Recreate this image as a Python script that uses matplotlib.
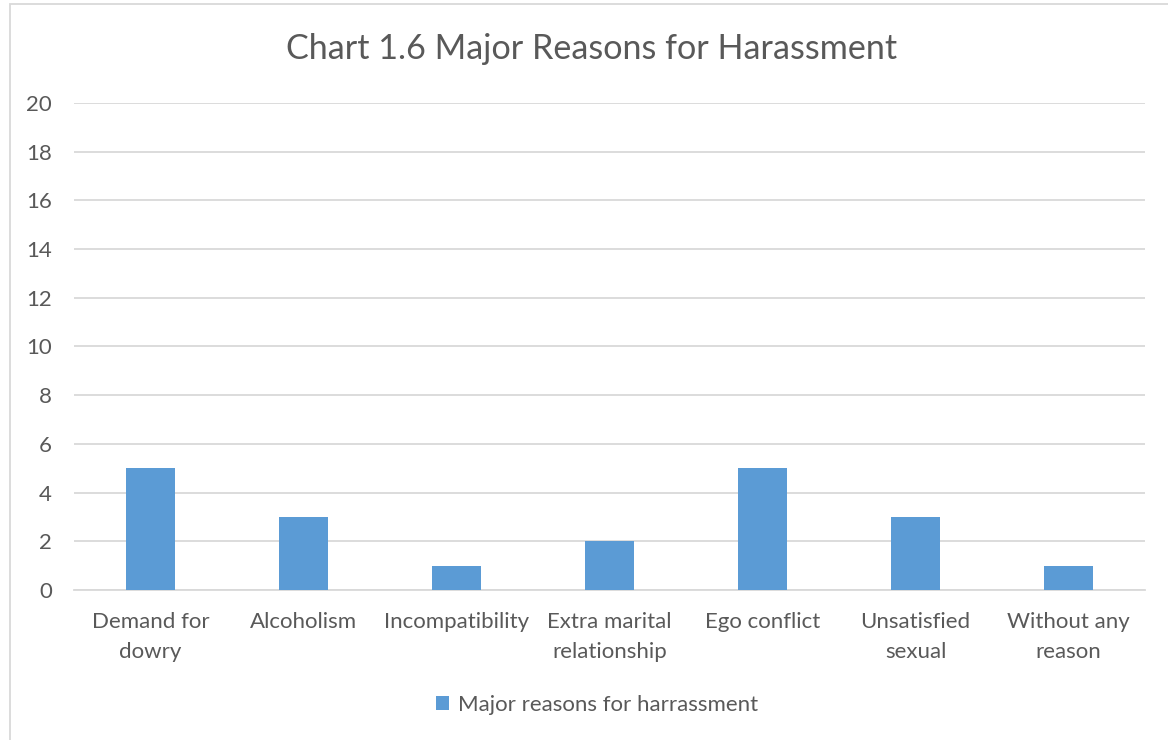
import matplotlib.pyplot as plt
from matplotlib.patches import Rectangle

categories = ["Demand for\ndowry", "Alcoholism", "Incompatibility",
              "Extra marital\nrelationship", "Ego conflict",
              "Unsatisfied\nsexual", "Without any\nreason"]
values = [5, 3, 1, 2, 5, 3, 1]
series_name = "Major reasons for harrassment"
title = "Chart 1.6 Major Reasons for Harassment"
yticks = list(range(0, 21, 2))

BAR = "#5B9BD5"
TXT = "#595959"
GRID = "#D9D9D9"

plt.rcParams['font.family'] = ['Lato', 'DejaVu Sans']

W, H = 1168, 740
fig = plt.figure(figsize=(W / 100, H / 100), dpi=100)

# chart frame
fig.patches.append(Rectangle((10 / W, -0.01), 1.02 - 10 / W, 1 - 4 / H + 0.01,
                             transform=fig.transFigure, fill=False,
                             edgecolor=GRID, linewidth=1.3))

ax = fig.add_axes([74 / W, 1 - 590 / H, (1145 - 74) / W, (590 - 103) / H])
x = range(len(categories))
ax.bar(x, values, width=0.315, color=BAR, label=series_name, zorder=3)
ax.set_xlim(-0.5, len(categories) - 0.5)
ax.set_ylim(0, 20)
ax.set_yticks(yticks)
ax.set_yticklabels([str(v) for v in yticks])
ax.set_xticks(list(x))
ax.set_xticklabels(categories, linespacing=1.62)
ax.grid(axis='y', color=GRID, linewidth=1.3, zorder=0)
for s in ['top', 'right', 'left']:
    ax.spines[s].set_visible(False)
ax.spines['bottom'].set_color(GRID)
ax.spines['bottom'].set_linewidth(1.3)
ax.tick_params(axis='both', length=0, colors=TXT, labelsize=16)
ax.tick_params(axis='y', pad=16)
ax.tick_params(axis='x', pad=16)

fig.text(592 / W, 1 - 49 / H, title, ha='center', va='center',
         fontsize=24.6, color=TXT)

leg = fig.legend(loc='center', bbox_to_anchor=(597 / W, 1 - 705 / H),
                 frameon=False, fontsize=16, handlelength=0.6,
                 handleheight=0.6, handletextpad=0.4)
for t in leg.get_texts():
    t.set_color(TXT)

fig.savefig("out.png", dpi=100)
